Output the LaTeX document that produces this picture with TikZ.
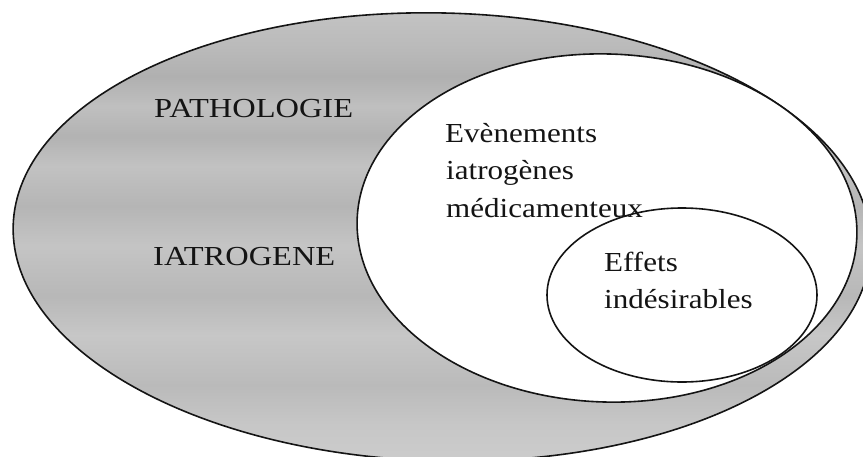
\documentclass[tikz,border=0pt]{standalone}
\usepackage{fontspec}
\setmainfont{Liberation Serif}[FakeStretch=1.13]
\newfontfamily\capsfont{Liberation Serif}[FakeStretch=1.18]
\usetikzlibrary{shapes.geometric}
\pgfdeclareverticalshading{streaks}{100bp}{%
  rgb(0bp)=(0.80,0.80,0.80);
  rgb(25bp)=(0.80,0.80,0.80);
  rgb(28.95bp)=(0.78,0.78,0.78);
  rgb(33.33bp)=(0.73,0.73,0.73);
  rgb(38.82bp)=(0.78,0.78,0.78);
  rgb(43.20bp)=(0.72,0.72,0.72);
  rgb(48.68bp)=(0.77,0.77,0.77);
  rgb(53.07bp)=(0.71,0.71,0.71);
  rgb(57.46bp)=(0.76,0.76,0.76);
  rgb(60.75bp)=(0.70,0.70,0.70);
  rgb(64.04bp)=(0.75,0.75,0.75);
  rgb(67.32bp)=(0.69,0.69,0.69);
  rgb(70.61bp)=(0.73,0.73,0.73);
  rgb(75bp)=(0.77,0.77,0.77);
  rgb(100bp)=(0.77,0.77,0.77)}
\definecolor{ink}{rgb}{0.08,0.08,0.08}
\tikzset{
  blob/.style={ellipse, draw=ink, line width=1.6pt, inner sep=0pt},
  lbl/.style={anchor=base west, inner sep=0pt, text=ink,
    font=\fontsize{27.5}{37.5}\selectfont},
  caplbl/.style={lbl, font=\capsfont\fontsize{27.5}{37.5}\selectfont}
}
\begin{document}
\begin{tikzpicture}[x=1pt,y=-1pt]
\useasboundingbox (0,0) rectangle (863,456);
\node[blob, shading=streaks, minimum width=858pt, minimum height=448pt, rotate=-1.5] (outer) at (442,237) {};
\node[blob, fill=white, minimum width=500pt, minimum height=348pt, rotate=-2] (middle) at (607,228) {};
\node[blob, fill=white, minimum width=270pt, minimum height=174pt] (inner) at (682,295) {};
\node[caplbl] (patho) at (154,117) {PATHOLOGIE};
\node[caplbl] (iatro) at (153,265) {IATROGENE};
\node[lbl] (ev1) at (445,142) {Evènements};
\node[lbl] (ev2) at (446,179) {iatrogènes};
\node[lbl] (ev3) at (446,217) {médicamenteux};
\node[lbl] (ef1) at (604,271) {Effets};
\node[lbl] (ef2) at (604,308) {indésirables};
\end{tikzpicture}
\end{document}
